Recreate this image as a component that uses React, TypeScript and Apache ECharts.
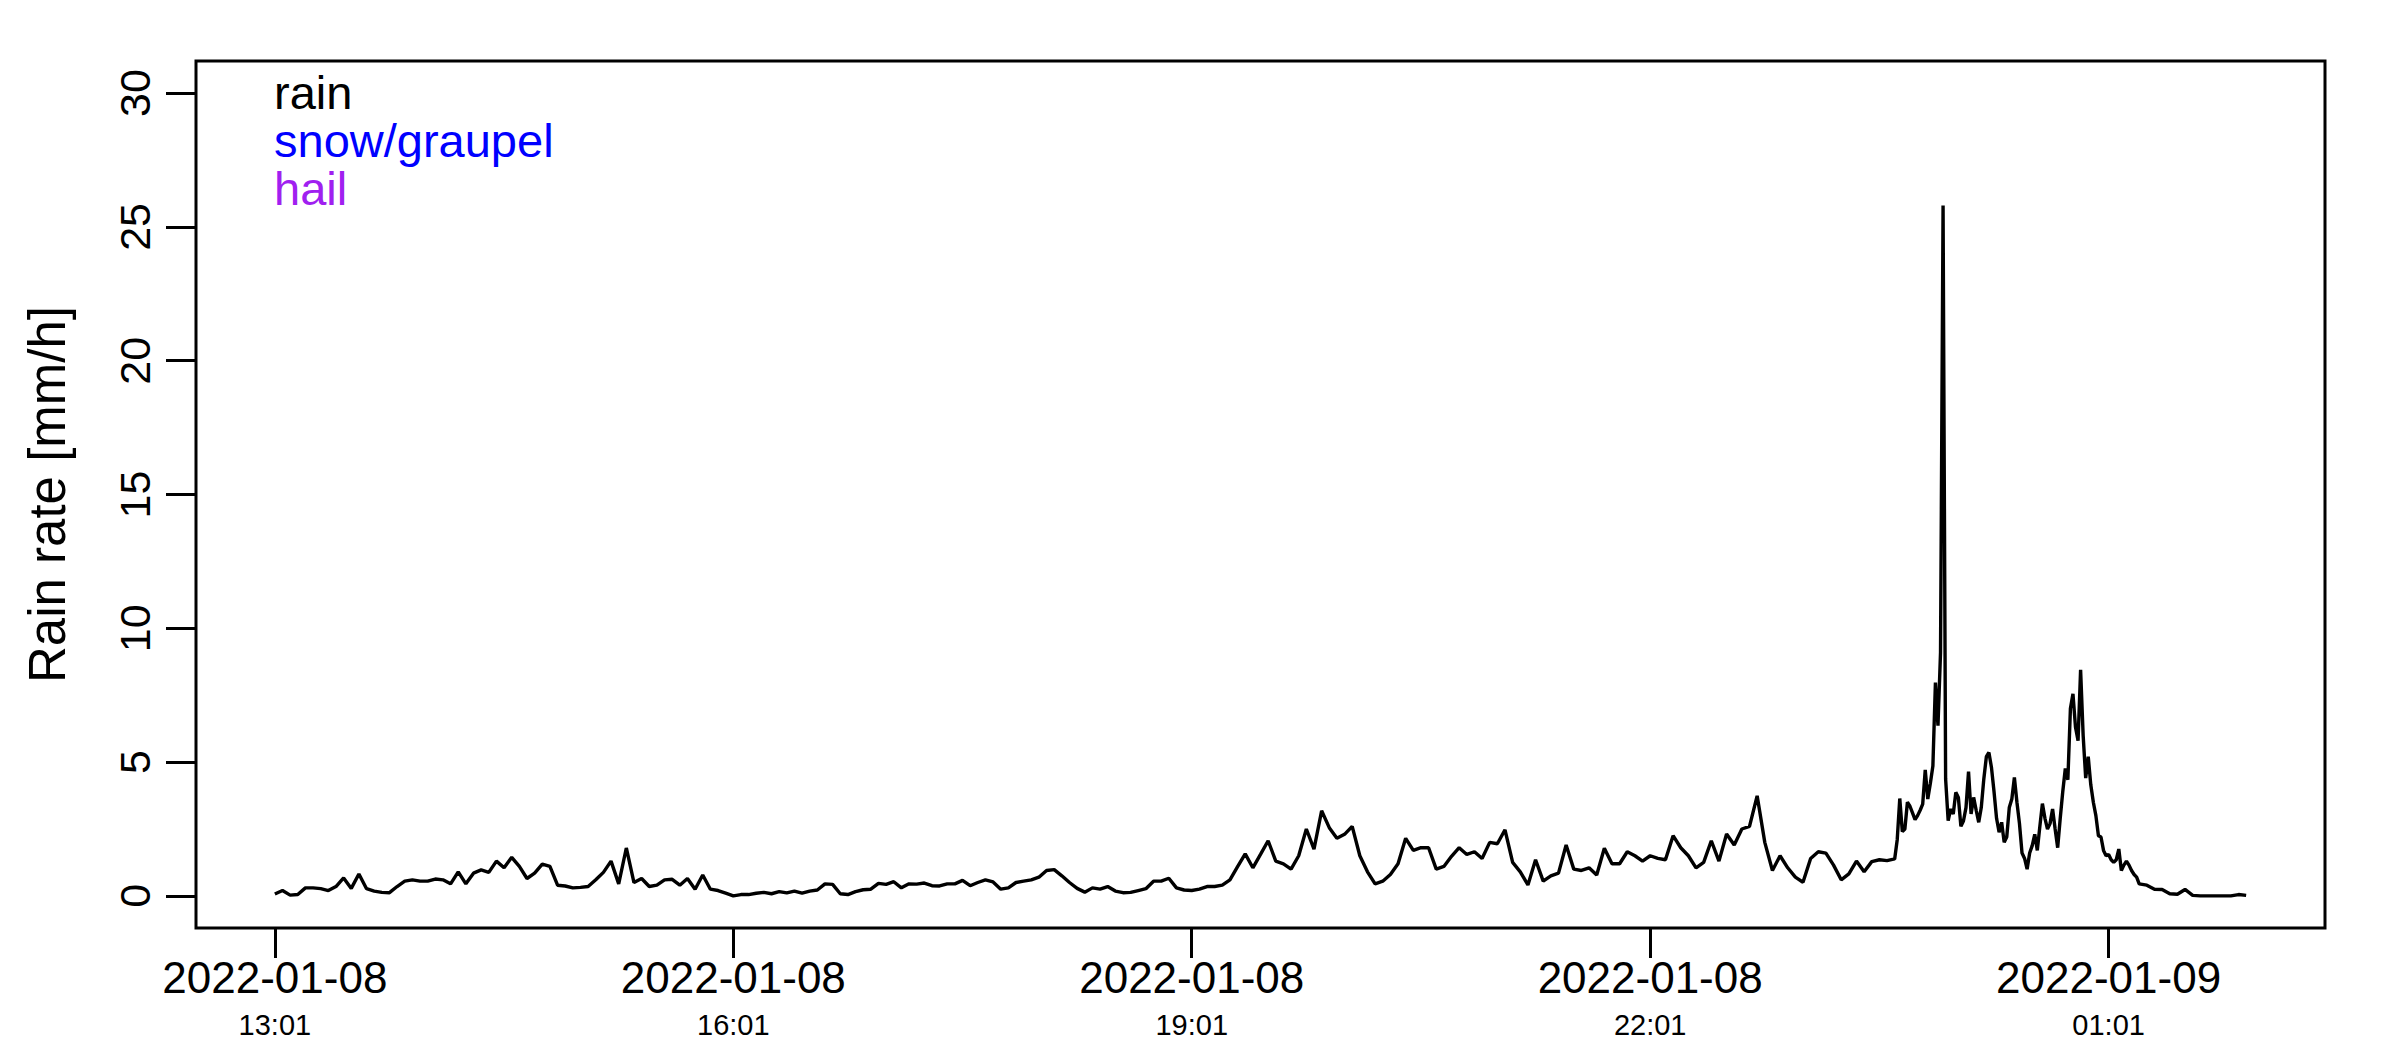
import React, { useEffect, useRef } from "react";
import * as echarts from "echarts";

// Rain rate [mm/h], minutes after 2022-01-08 13:01
const START_UTC = Date.UTC(2022, 0, 8, 13, 1);

// every 3 minutes, minute 0 .. 636
const earlyStep = 3;
const rateEarly = [
  0.07, 0.2, 0.03, 0.05, 0.3, 0.3, 0.27, 0.2, 0.35, 0.67,
  0.28, 0.82, 0.27, 0.18, 0.13, 0.12, 0.35, 0.55, 0.6, 0.55,
  0.55, 0.63, 0.6, 0.45, 0.9, 0.45, 0.85, 0.97, 0.88, 1.3,
  1.05, 1.44, 1.1, 0.65, 0.85, 1.19, 1.1, 0.4, 0.37, 0.3,
  0.32, 0.35, 0.6, 0.88, 1.3, 0.45, 1.79, 0.5, 0.65, 0.35,
  0.4, 0.6, 0.62, 0.4, 0.65, 0.25, 0.78, 0.25, 0.2, 0.1,
  0.0, 0.05, 0.05, 0.1, 0.13, 0.08, 0.16, 0.11, 0.18, 0.1,
  0.18, 0.22, 0.45, 0.43, 0.08, 0.05, 0.16, 0.23, 0.25, 0.47,
  0.43, 0.53, 0.3, 0.45, 0.44, 0.48, 0.38, 0.37, 0.45, 0.45,
  0.58, 0.38, 0.5, 0.6, 0.52, 0.25, 0.3, 0.5, 0.55, 0.6,
  0.7, 0.95, 0.98, 0.75, 0.5, 0.28, 0.14, 0.3, 0.25, 0.35,
  0.18, 0.12, 0.13, 0.2, 0.27, 0.55, 0.55, 0.66, 0.3, 0.22,
  0.2, 0.25, 0.35, 0.35, 0.4, 0.6, 1.09, 1.57, 1.05, 1.55,
  2.06, 1.3, 1.2, 1.0, 1.5, 2.5, 1.75, 3.18, 2.55, 2.15,
  2.3, 2.6, 1.5, 0.9, 0.45, 0.55, 0.8, 1.2, 2.15, 1.7,
  1.8, 1.8, 1.0, 1.1, 1.48, 1.8, 1.55, 1.65, 1.4, 2.0,
  1.95, 2.47, 1.25, 0.9, 0.41, 1.35, 0.55, 0.75, 0.85, 1.9,
  1.0, 0.95, 1.05, 0.78, 1.78, 1.2, 1.2, 1.65, 1.5, 1.3,
  1.5, 1.4, 1.35, 2.25, 1.8, 1.5, 1.05, 1.25, 2.06, 1.3,
  2.31, 1.9, 2.5, 2.6, 3.74, 2.0, 0.95, 1.5, 1.05, 0.7,
  0.51, 1.4, 1.65, 1.6, 1.15, 0.6, 0.82, 1.3, 0.9, 1.28,
  1.35, 1.32, 1.38,
];

// every minute, minute 637 .. 731
const fineStart = 637;
const rateFine = [
  2.1, 3.64, 2.4, 2.5, 3.5, 3.35, 3.1, 2.85, 3.0, 3.2,
  3.43, 4.71, 3.62, 4.2, 4.85, 7.97, 6.36, 9.09, 25.8, 4.37,
  2.81, 3.25, 3.06, 3.87, 3.68, 2.6, 2.8, 3.3, 4.64, 3.06,
  3.68, 3.2, 2.75, 3.3, 4.37, 5.2, 5.36, 4.8, 3.9, 2.9,
  2.38, 2.75, 2.0, 2.2, 3.3, 3.62, 4.43, 3.5, 2.7, 1.6,
  1.4, 1.0, 1.6, 1.88, 2.3, 1.7, 2.6, 3.45, 2.9, 2.5,
  2.7, 3.25, 2.5, 1.8, 2.9, 3.9, 4.76, 4.34, 7.0, 7.55,
  6.3, 5.8, 8.45, 6.0, 4.4, 5.2, 4.15, 3.5, 3.0, 2.25,
  2.2, 1.7, 1.5, 1.55, 1.35, 1.25, 1.35, 1.75, 0.95, 1.15,
  1.3, 1.15, 0.95, 0.8, 0.7,
];

// every 3 minutes, minute 732 .. 774
const lateStart = 732;
const lateStep = 3;
const rateLate = [0.45, 0.4, 0.25, 0.24, 0.08, 0.06, 0.24, 0.02, 0, 0, 0, 0, 0, 0.05, 0.02];

const xTickMinutes = [0, 180, 360, 540, 720];
const yTicks = [0, 5, 10, 15, 20, 25, 30];
const yRange = [0, 30];
const yTitle = "Rain rate [mm/h]";
const legendLabels = ["rain", "snow/graupel", "hail"];

const FONT = "'Liberation Sans', Arial, Helvetica, sans-serif";
const legendColors = ["#000000", "#0000FF", "#A020F0"];

function pad2(n: number) {
  return n < 10 ? "0" + n : "" + n;
}

function formatTick(m: number) {
  const d = new Date(START_UTC + m * 60000);
  const date = d.getUTCFullYear() + "-" + pad2(d.getUTCMonth() + 1) + "-" + pad2(d.getUTCDate());
  const time = pad2(d.getUTCHours()) + ":" + pad2(d.getUTCMinutes());
  return "{d|" + date + "}\n{t|" + time + "}";
}

export default function App() {
  const ref = useRef<HTMLDivElement>(null);

  useEffect(() => {
    if (!ref.current) return;
    const chart = echarts.init(ref.current, null, { renderer: "svg" });

    const data: [number, number][] = [];
    rateEarly.forEach((v, i) => data.push([i * earlyStep, v]));
    rateFine.forEach((v, i) => data.push([fineStart + i, v]));
    rateLate.forEach((v, i) => data.push([lateStart + i * lateStep, v]));

    const tMin = data[0][0];
    const tMax = data[data.length - 1][0];
    const xPad = 0.04 * (tMax - tMin);
    const yPad = 0.04 * (yRange[1] - yRange[0]);

    const tickStyle = { color: "#000", width: 3 };

    chart.setOption({
      animation: false,
      backgroundColor: "#ffffff",
      grid: {
        left: 196,
        right: 75,
        top: 61,
        bottom: 122,
        show: true,
        borderColor: "#000",
        borderWidth: 3,
        backgroundColor: "transparent",
      },
      xAxis: {
        type: "value",
        min: tMin - xPad,
        max: tMax + xPad,
        axisLine: { show: false, onZero: false },
        splitLine: { show: false },
        axisTick: { show: true, customValues: xTickMinutes, length: 30, lineStyle: tickStyle },
        axisLabel: {
          customValues: xTickMinutes,
          margin: 24,
          color: "#000",
          formatter: (v: number) => formatTick(v),
          rich: {
            d: { fontSize: 44, lineHeight: 50, fontFamily: FONT, color: "#000" },
            t: { fontSize: 29, lineHeight: 45, fontFamily: FONT, color: "#000" },
          },
        },
      },
      yAxis: {
        type: "value",
        min: yRange[0] - yPad,
        max: yRange[1] + yPad,
        name: yTitle,
        nameLocation: "middle",
        nameRotate: 90,
        nameGap: 123,
        nameTextStyle: { fontSize: 51, fontFamily: FONT, color: "#000" },
        axisLine: { show: false, onZero: false },
        splitLine: { show: false },
        axisTick: { show: true, customValues: yTicks, length: 30, lineStyle: tickStyle },
        axisLabel: {
          customValues: yTicks,
          rotate: 90,
          margin: 40,
          fontSize: 43,
          fontFamily: FONT,
          color: "#000",
        },
      },
      series: [
        {
          type: "line",
          data,
          symbol: "none",
          showSymbol: false,
          silent: true,
          lineStyle: { color: "#000", width: 3.4 },
        },
      ],
      graphic: legendLabels.map((label, i) => ({
        type: "text",
        x: 274,
        y: 92 + i * 48,
        style: {
          text: label,
          fill: legendColors[i],
          fontSize: 47,
          fontFamily: FONT,
          verticalAlign: "middle",
          align: "left",
        },
      })),
    });

    return () => chart.dispose();
  }, []);

  return (
    <div
      ref={ref}
      style={{ position: "fixed", left: 0, top: 0, width: 2400, height: 1050, background: "#fff" }}
    />
  );
}
